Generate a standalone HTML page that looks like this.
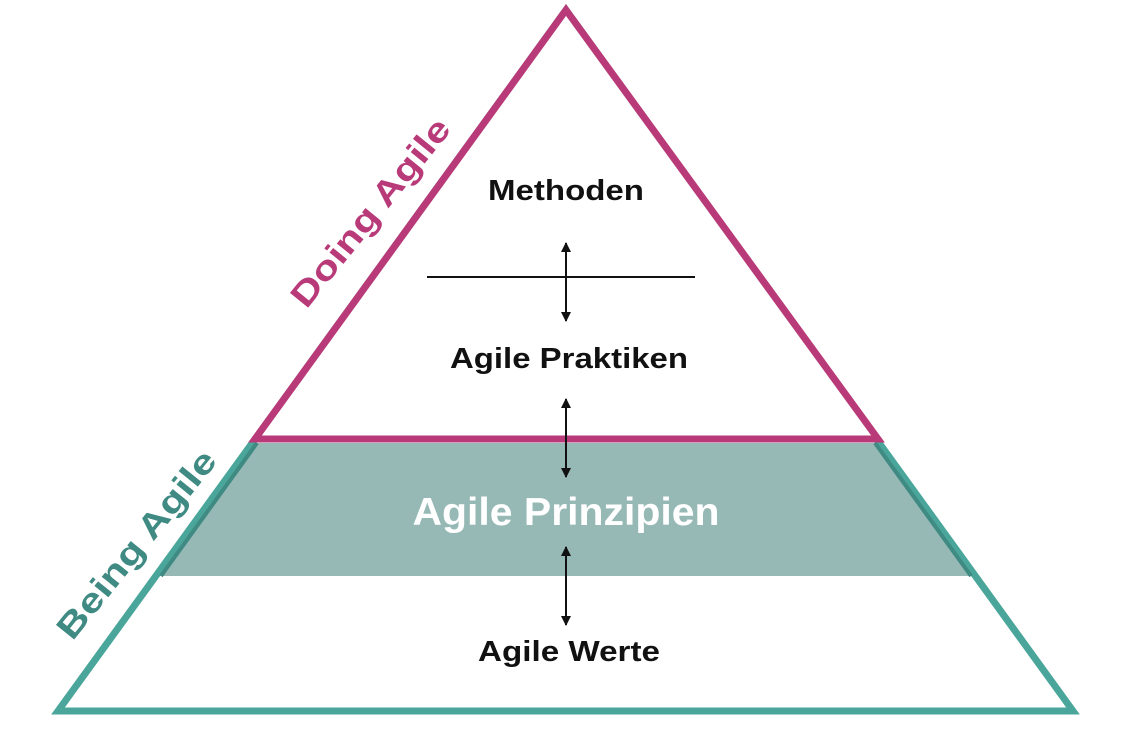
<!DOCTYPE html>
<html><head><meta charset="utf-8"><style>
html,body{margin:0;padding:0;background:#fff;}
svg{display:block;}
text{font-family:"Liberation Sans",sans-serif;font-weight:bold;}
</style></head><body>
<svg width="1128" height="732" viewBox="0 0 1128 732" xmlns="http://www.w3.org/2000/svg">
<defs>
<clipPath id="tri"><polygon points="566,10 1073,711 58,711"/></clipPath>
<marker id="ah" viewBox="0 0 10 10" refX="9" refY="5" markerWidth="5" markerHeight="5" orient="auto-start-reverse"><path d="M0,0 L10,5 L0,10 z" fill="#111"/></marker>
</defs>
<rect x="0" y="443" width="1128" height="133" fill="#97b9b6" clip-path="url(#tri)"/>
<polygon points="566,10 1073,711 58,711" fill="none" stroke="#4aa69a" stroke-width="7" stroke-linejoin="miter"/>
<line x1="257" y1="443" x2="161" y2="576" stroke="#3f8a82" stroke-width="4"/>
<line x1="875" y1="443" x2="971" y2="576" stroke="#3f8a82" stroke-width="4"/>
<polygon points="566,10 878,439 255,439" fill="#fff" stroke="#b83a78" stroke-width="7" stroke-linejoin="miter"/>
<line x1="427" y1="277" x2="695" y2="277" stroke="#111" stroke-width="2"/>
<line x1="566" y1="243" x2="566" y2="321" stroke="#111" stroke-width="2" marker-start="url(#ah)" marker-end="url(#ah)"/>
<line x1="566" y1="399" x2="566" y2="477" stroke="#111" stroke-width="2" marker-start="url(#ah)" marker-end="url(#ah)"/>
<line x1="566" y1="547" x2="566" y2="625" stroke="#111" stroke-width="2" marker-start="url(#ah)" marker-end="url(#ah)"/>
<text x="566" y="200" font-size="29" text-anchor="middle" fill="#111" textLength="156" lengthAdjust="spacingAndGlyphs">Methoden</text>
<text x="569" y="368" font-size="29" text-anchor="middle" fill="#111" textLength="238" lengthAdjust="spacingAndGlyphs">Agile Praktiken</text>
<text x="566" y="525" font-size="39" text-anchor="middle" fill="#fff" textLength="307" lengthAdjust="spacingAndGlyphs">Agile Prinzipien</text>
<text x="569" y="661" font-size="29" text-anchor="middle" fill="#111" textLength="182" lengthAdjust="spacingAndGlyphs">Agile Werte</text>
<text transform="translate(370,212) rotate(-51)" x="0" y="12" font-size="34" text-anchor="middle" fill="#b83a78" textLength="232" lengthAdjust="spacingAndGlyphs">Doing Agile</text>
<text transform="translate(136,544) rotate(-51)" x="0" y="12" font-size="34" text-anchor="middle" fill="#3f8a82" textLength="232" lengthAdjust="spacingAndGlyphs">Being Agile</text>
</svg>
</body></html>
